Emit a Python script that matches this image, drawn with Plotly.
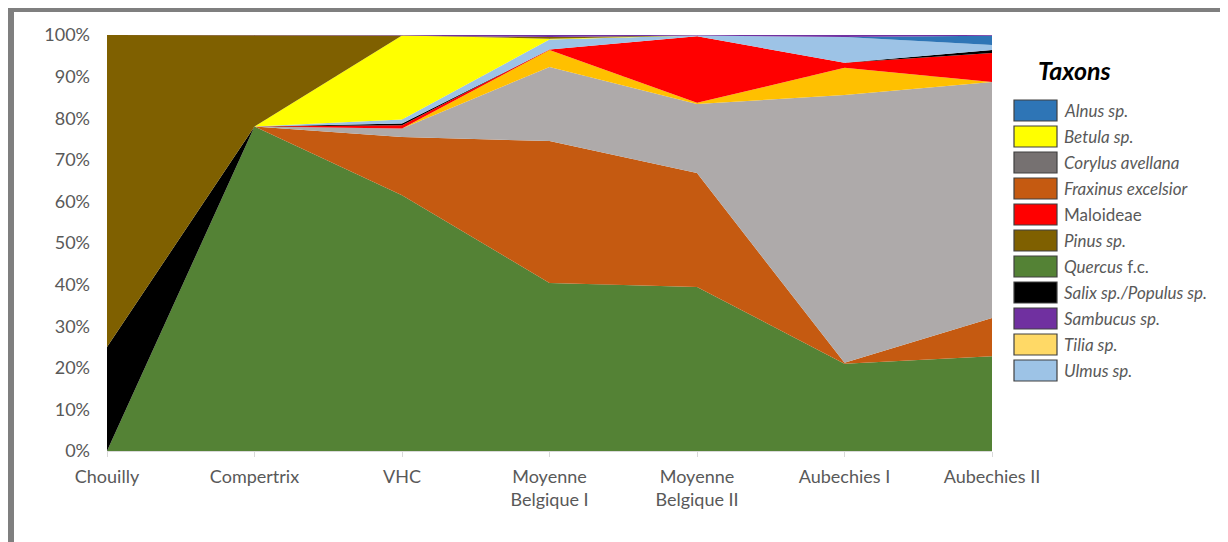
import plotly.graph_objects as go

# sites (x categories)
sites = ["Chouilly", "Compertrix", "VHC", "Moyenne<br>Belgique I",
         "Moyenne<br>Belgique II", "Aubechies I", "Aubechies II"]

# percentages per taxon, stacking order bottom -> top
quercus = [0, 78, 61.5, 40.4, 39.4, 21.0, 22.8]
fraxinus = [0, 0, 14.0, 34.1, 27.4, 0.2, 9.2]
corylus = [0, 0, 2.0, 17.8, 16.6, 64.4, 56.7]
tilia = [0, 0, 0, 4.1, 0.3, 6.5, 0]
maloideae = [0, 0, 0.8, 0.1, 16.0, 1.2, 7.0]
salix = [25, 0, 0.4, 0, 0, 0, 0.7]
ulmus = [0, 0, 1.0, 2.4, 0.2, 6.2, 1.2]
alnus = [0, 0, 0, 0, 0, 0, 2.2]
betula = [0, 0, 20.2, 0.2, 0, 0, 0]
pinus = [75, 22, 0, 0.4, 0, 0, 0]
sambucus = [0, 0, 0.1, 0.5, 0.1, 0.5, 0.2]

series = [
    ("Quercus f.c.", quercus, "#548235"),
    ("Fraxinus excelsior", fraxinus, "#C55A11"),
    ("Corylus avellana", corylus, "#AEAAAA"),
    ("Tilia sp.", tilia, "#FFC000"),
    ("Maloideae", maloideae, "#FF0000"),
    ("Salix sp./Populus sp.", salix, "#000000"),
    ("Ulmus sp.", ulmus, "#9DC3E6"),
    ("Alnus sp.", alnus, "#2E75B6"),
    ("Betula sp.", betula, "#FFFF00"),
    ("Pinus sp.", pinus, "#7F6000"),
    ("Sambucus sp.", sambucus, "#7030A0"),
]

# legend (drawn separately, alphabetical as in the original)
legend_labels = ["<i>Alnus sp.</i>", "<i>Betula sp.</i>", "<i>Corylus avellana</i>",
                 "<i>Fraxinus excelsior</i>", "Maloideae", "<i>Pinus sp.</i>",
                 "<i>Quercus</i> f.c.", "<i>Salix sp./Populus sp.</i>",
                 "<i>Sambucus sp.</i>", "<i>Tilia sp.</i>", "<i>Ulmus sp.</i>"]
legend_colors = ["#2E75B6", "#FFFF00", "#767171", "#C55A11", "#FF0000", "#7F6000",
                 "#548235", "#000000", "#7030A0", "#FFD966", "#9DC3E6"]

# page has an 8px body margin, so work in page pixels and shift by OFF
OFF = 8
W, H = 1228 - OFF, 542 - OFF
L, R, T, B = 107 - OFF, 992 - OFF, 35 - OFF, 451 - OFF


def px(x):
    return (x - OFF - L) / (R - L)


def py(y):
    return (B - (y - OFF)) / (B - T)


fig = go.Figure()
for name, vals, color in series:
    fig.add_trace(
        go.Scatter(
            x=sites,
            y=vals,
            name=name,
            stackgroup="one",
            mode="lines",
            line=dict(width=0, color=color),
            fillcolor=color,
            showlegend=False,
        )
    )

shapes = []
annotations = []

# outer frame
shapes.append(dict(type="rect", xref="paper", yref="paper",
                   x0=px(8), x1=px(1240), y0=py(7), y1=py(12),
                   fillcolor="#7F7F7F", line_width=0, layer="above"))
shapes.append(dict(type="rect", xref="paper", yref="paper",
                   x0=px(8), x1=px(14), y0=py(7), y1=py(560),
                   fillcolor="#7F7F7F", line_width=0, layer="above"))

# legend
annotations.append(dict(xref="paper", yref="paper", x=px(1036), y=py(70),
                        xanchor="left", yanchor="middle", showarrow=False,
                        text="<b><i>Taxons</i></b>",
                        font=dict(family="Lato", size=25, color="#000000")))
for i, (lab, col) in enumerate(zip(legend_labels, legend_colors)):
    top = 100 + i * 26
    shapes.append(dict(type="rect", xref="paper", yref="paper",
                       x0=px(1014), x1=px(1057), y0=py(top), y1=py(top + 21),
                       fillcolor=col, line=dict(color="#404040", width=1.2),
                       layer="above"))
    annotations.append(dict(xref="paper", yref="paper", x=px(1062),
                            y=py(top + 10.5), xanchor="left", yanchor="middle",
                            showarrow=False, text=lab,
                            font=dict(family="Lato", size=17, color="#595959")))

fig.update_layout(
    width=W,
    height=H,
    margin=dict(l=L, r=W - R, t=T, b=H - B),
    paper_bgcolor="white",
    plot_bgcolor="white",
    font=dict(family="Lato", size=18, color="#595959"),
    shapes=shapes,
    annotations=annotations,
    xaxis=dict(
        type="category",
        range=[0, 6],
        showgrid=True,
        gridcolor="#D9D9D9",
        showline=True,
        linecolor="#D9D9D9",
        ticks="outside",
        ticklen=5,
        tickcolor="#D9D9D9",
        ticklabelstandoff=4,
        tickfont=dict(size=18, color="#595959"),
    ),
    yaxis=dict(
        range=[0, 100],
        dtick=10,
        ticksuffix="%",
        showgrid=True,
        gridcolor="#D9D9D9",
        zeroline=False,
        showline=False,
        ticks="",
        ticklabelstandoff=16,
        tickfont=dict(size=18, color="#595959"),
    ),
)

fig.write_html("out.html")
